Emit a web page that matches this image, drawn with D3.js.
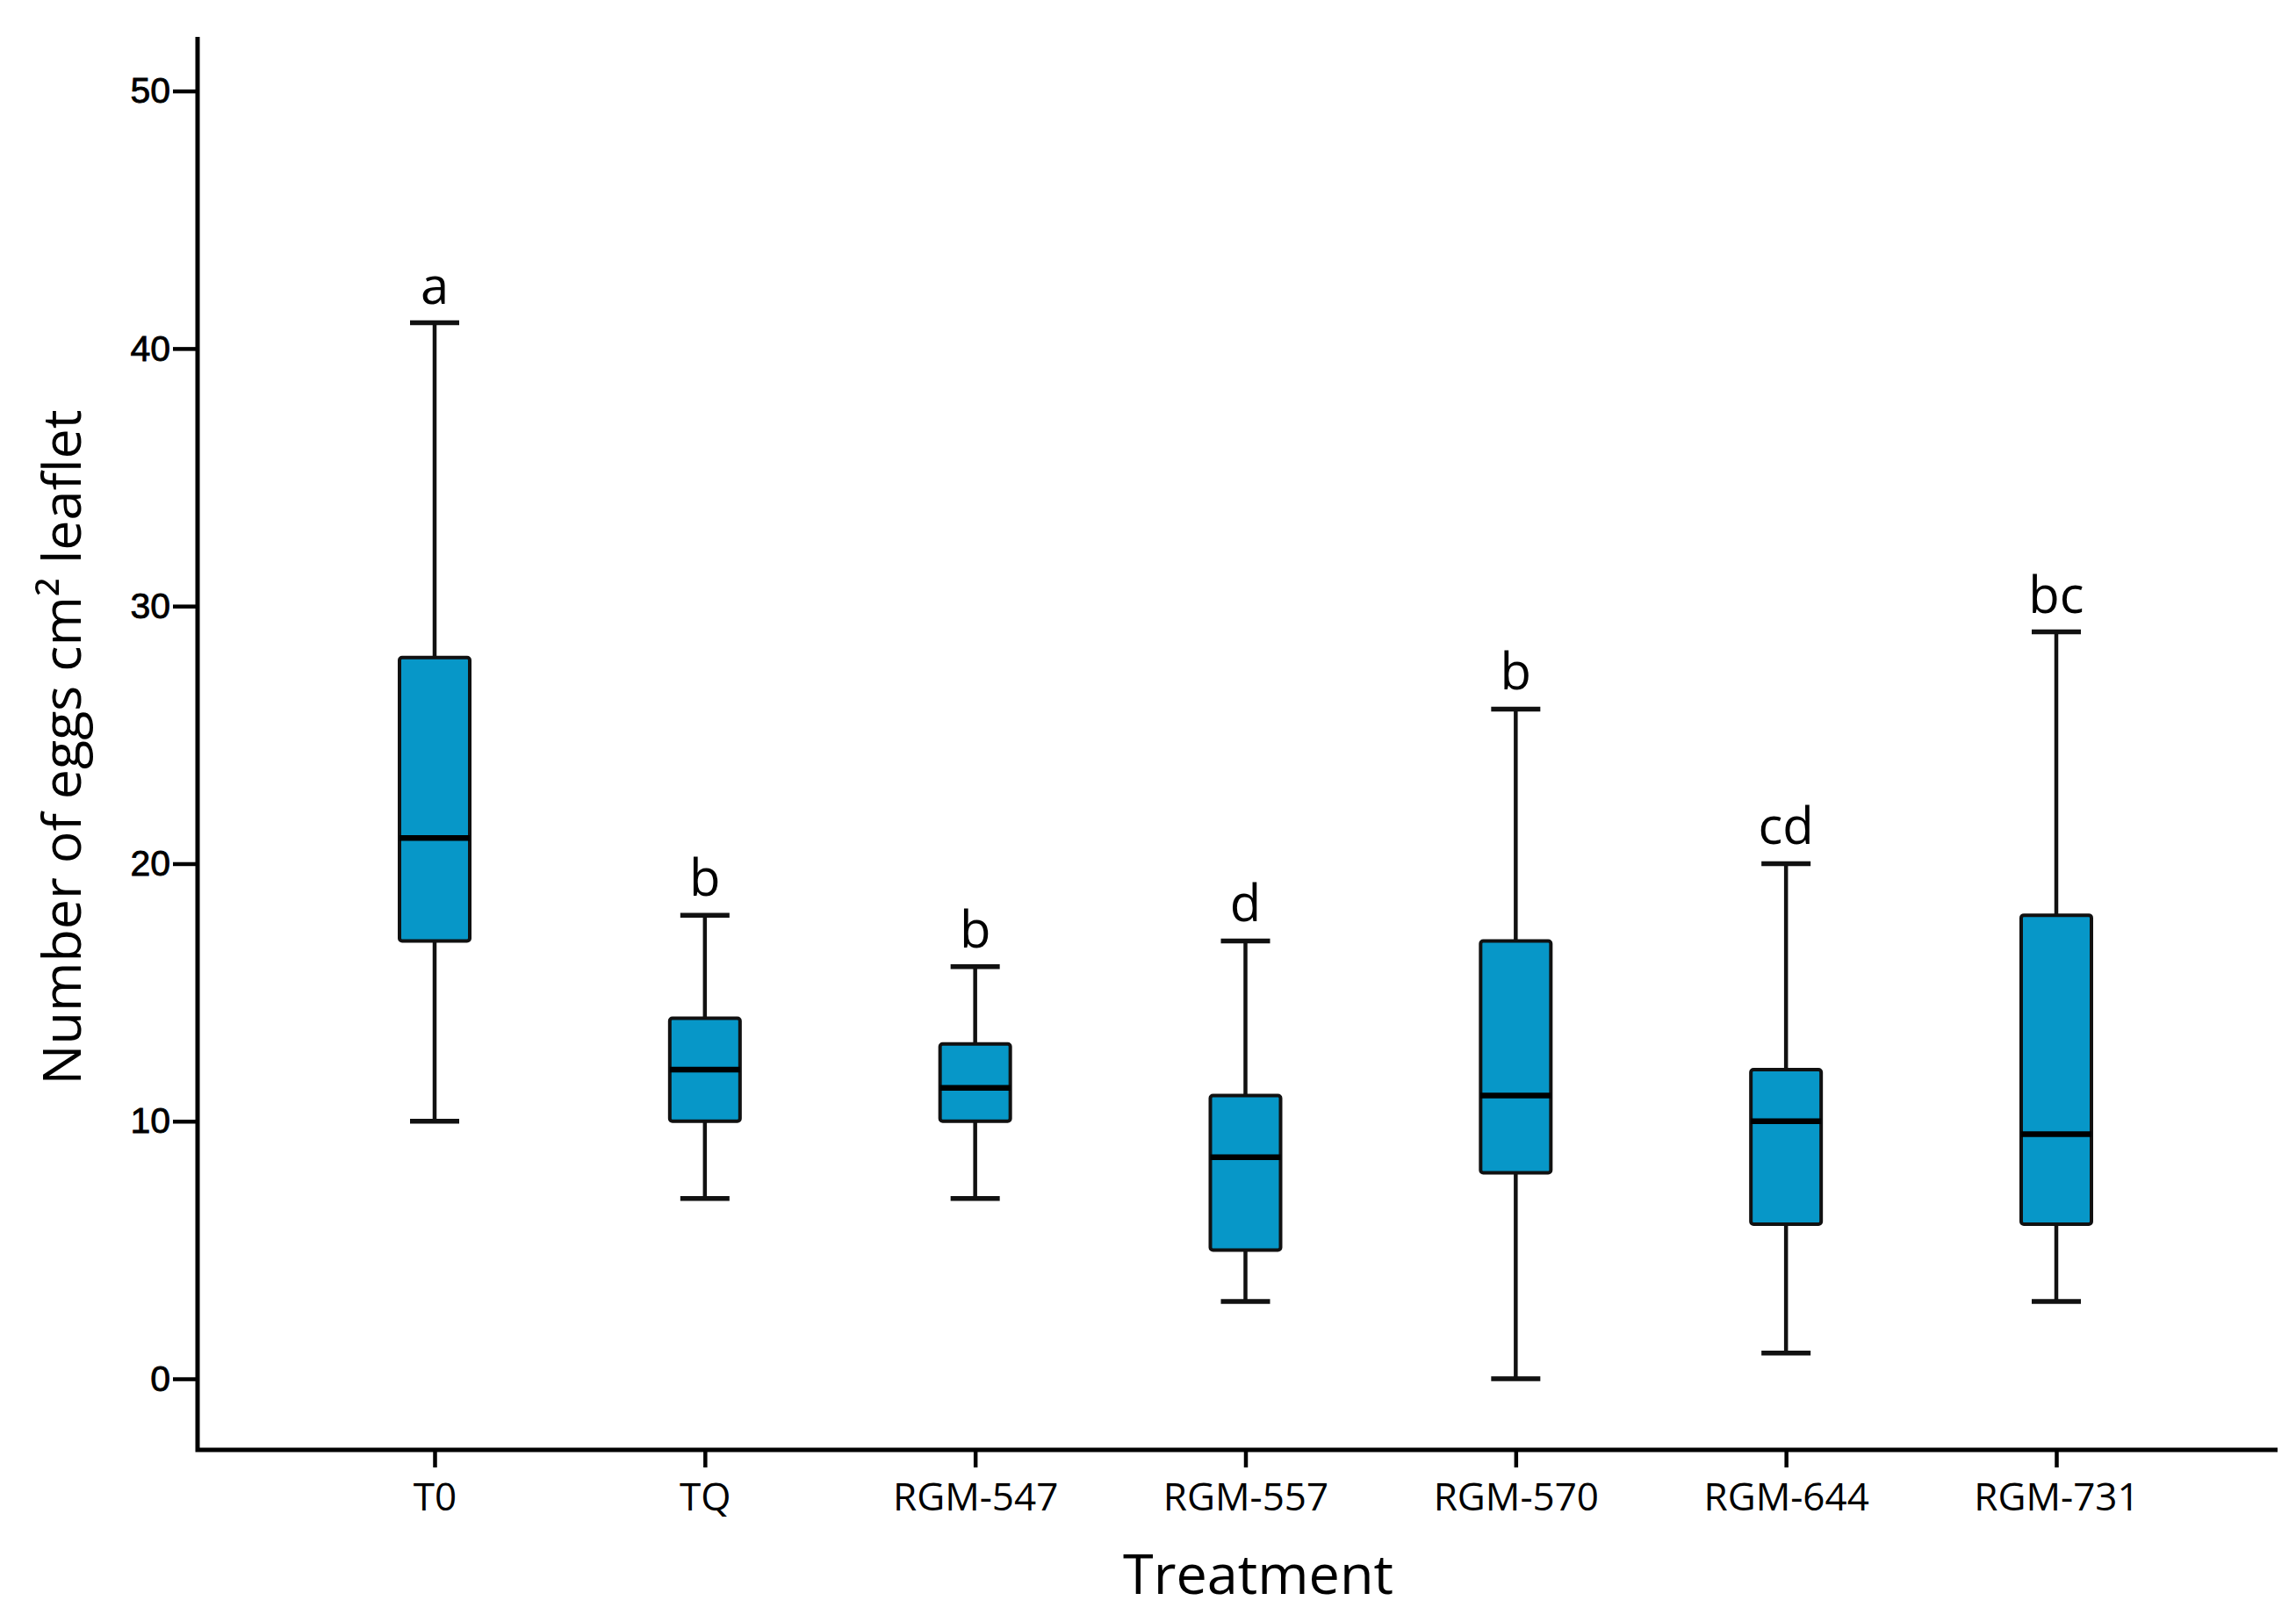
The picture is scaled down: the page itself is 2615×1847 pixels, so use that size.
<!DOCTYPE html>
<html>
<head>
<meta charset="utf-8">
<title>Number of eggs per treatment</title>
<script src="https://d3js.org/d3.v7.min.js"></script>
<style>
  body { margin: 0; background: #fff; }
  .tick text { fill: #000; }
</style>
</head>
<body>
<div id="chart"></div>
<script>
// treatments and box stats
const treatments = ["T0", "TQ", "RGM-547", "RGM-557", "RGM-570", "RGM-644", "RGM-731"];
const whiskerLow  = [10, 7, 7, 3, 0, 1, 3];
const q1          = [17, 10, 10, 5, 8, 6, 6];
const medians     = [21, 12, 11.3, 8.6, 11, 10, 9.5];
const q3          = [28, 14, 13, 11, 17, 12, 18];
const whiskerHigh = [41, 18, 16, 17, 26, 20, 29];
const letters     = ["a", "b", "b", "d", "b", "cd", "bc"];
const yTicks      = [0, 10, 20, 30, 40, 50];

const width = 2615, height = 1847;
const axisLeftX = 225, axisBottomY = 1651, axisTopY = 42, axisRightX = 2594;

const svg = d3.select("#chart").append("svg")
    .attr("width", width)
    .attr("height", height);

const x = d3.scalePoint()
    .domain(treatments)
    .range([495, 2342]);

const y = d3.scaleLinear()
    .domain([-2.76, 52.1])
    .range([axisBottomY, axisTopY]);

const boxW = 80, capW = 56;

// y axis
const yAxis = svg.append("g")
    .attr("transform", `translate(${axisLeftX},0)`)
    .call(d3.axisLeft(y).tickValues(yTicks).tickSize(28).tickSizeOuter(0).tickPadding(3));
yAxis.select(".domain").remove();
yAxis.selectAll(".tick line").attr("stroke", "#000").attr("stroke-width", 4.5);
yAxis.selectAll(".tick text")
    .style("font-family", "'Liberation Sans', Arial, sans-serif")
    .style("font-size", "41px")
    .attr("stroke", "#000")
    .attr("stroke-width", 0.8);

// x axis
const xAxis = svg.append("g")
    .attr("transform", `translate(0,${axisBottomY})`)
    .call(d3.axisBottom(x).tickSize(20).tickSizeOuter(0).tickPadding(18));
xAxis.select(".domain").remove();
xAxis.selectAll(".tick line").attr("stroke", "#000").attr("stroke-width", 4.5);
xAxis.selectAll(".tick text")
    .style("font-family", "'Open Sans', sans-serif")
    .style("font-size", "44px");

// axis lines
svg.append("path")
    .attr("d", `M${axisLeftX},${axisTopY}V${axisBottomY}H${axisRightX}`)
    .attr("fill", "none")
    .attr("stroke", "#000")
    .attr("stroke-width", 5);

// boxes
const data = treatments.map((t, i) => ({
    t: t, lo: whiskerLow[i], q1: q1[i], med: medians[i], q3: q3[i], hi: whiskerHigh[i], letter: letters[i]
}));

const g = svg.append("g").selectAll("g")
    .data(data)
    .join("g")
    .attr("transform", d => `translate(${x(d.t)},0)`);

// whiskers
g.append("line")
    .attr("x1", 0).attr("x2", 0)
    .attr("y1", d => y(d.hi)).attr("y2", d => y(d.q3))
    .attr("stroke", "#111").attr("stroke-width", 4.5);
g.append("line")
    .attr("x1", 0).attr("x2", 0)
    .attr("y1", d => y(d.q1)).attr("y2", d => y(d.lo))
    .attr("stroke", "#111").attr("stroke-width", 4.5);
g.append("line")
    .attr("x1", -capW / 2).attr("x2", capW / 2)
    .attr("y1", d => y(d.hi)).attr("y2", d => y(d.hi))
    .attr("stroke", "#111").attr("stroke-width", 5.5);
g.append("line")
    .attr("x1", -capW / 2).attr("x2", capW / 2)
    .attr("y1", d => y(d.lo)).attr("y2", d => y(d.lo))
    .attr("stroke", "#111").attr("stroke-width", 5.5);

// box
g.append("rect")
    .attr("x", -boxW / 2)
    .attr("width", boxW)
    .attr("y", d => y(d.q3))
    .attr("height", d => y(d.q1) - y(d.q3))
    .attr("rx", 3)
    .attr("fill", "#0797c8")
    .attr("stroke", "#111")
    .attr("stroke-width", 4);

// median
g.append("line")
    .attr("x1", -boxW / 2).attr("x2", boxW / 2)
    .attr("y1", d => y(d.med)).attr("y2", d => y(d.med))
    .attr("stroke", "#000").attr("stroke-width", 6.5);

// significance letters
g.append("text")
    .attr("x", 0)
    .attr("y", d => y(d.hi) - 22)
    .attr("text-anchor", "middle")
    .style("font-family", "'Open Sans', sans-serif")
    .style("font-size", "58px")
    .text(d => d.letter);

// axis titles
svg.append("text")
    .attr("x", 1433)
    .attr("y", 1815)
    .attr("text-anchor", "middle")
    .style("font-family", "'Open Sans', sans-serif")
    .style("font-size", "63px")
    .style("font-weight", 500)
    .text("Treatment");

svg.append("text")
    .attr("transform", "translate(92,851) rotate(-90)")
    .attr("text-anchor", "middle")
    .style("font-family", "'Open Sans', sans-serif")
    .style("font-size", "61px")
    .text("Number of eggs cm² leaflet");
</script>
</body>
</html>
